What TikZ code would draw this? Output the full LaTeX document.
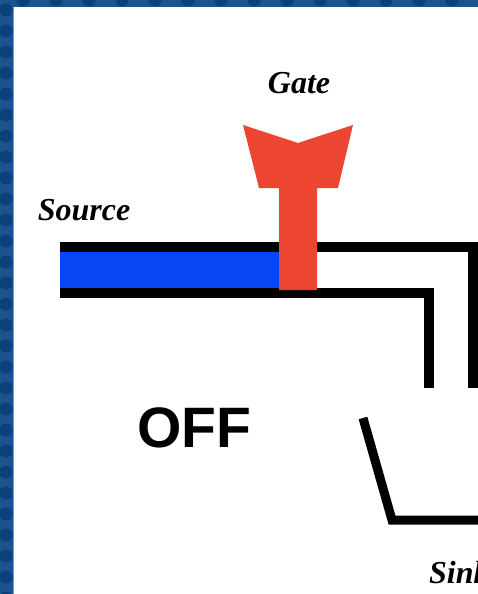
\documentclass[tikz,border=0pt]{standalone}
\usepackage{fontspec}
\setmainfont{Liberation Serif}
\setsansfont{Liberation Sans}

\definecolor{frameblue}{HTML}{1B5290}
\definecolor{framedot}{HTML}{0D3F78}
\definecolor{frameedge}{HTML}{6F9AD0}
\definecolor{chanblue}{HTML}{0646F5}
\definecolor{gatered}{HTML}{EC4632}

\tikzstyle{term} = [font=\bfseries\itshape\fontsize{32}{32}\selectfont, inner sep=0pt, anchor=base]
\tikzstyle{statetext} = [font=\sffamily\bfseries\fontsize{57}{57}\selectfont, inner sep=0pt, anchor=base]
\tikzstyle{wall} = [draw, line width=10pt, line join=miter]

\begin{document}
\begin{tikzpicture}[x=1pt,y=-1pt]
	\useasboundingbox (0,0) rectangle (478,594);
	\clip (0,0) rectangle (478,594);
	% page and frame
	\fill[white] (0,0) rectangle (478,594);
	\fill[frameblue] (0,0) rectangle (13,594);
	\fill[frameblue] (0,0) rectangle (478,7);
	\foreach \y in {10,31,...,600} \fill[framedot] (6,\y) circle (6.5);
	\foreach \x in {23,56,...,490} \fill[framedot] (\x,0) circle (6.5);
	\fill[frameblue] (13,7) rectangle (478,8);
	\draw[frameedge, line width=1pt] (13.5,7) -- (13.5,594);
	\fill[white] (14,7.5) rectangle (478,594);
	% channel from the source
	\fill[chanblue] (60,252) rectangle (279,288);
	\path[wall] (60,247) -- (473,247) -- (473,388);
	\path[wall] (60,293) -- (429,293) -- (429,388);
	% gate
	\fill[gatered] (243,125) -- (298,143) -- (353,125) -- (338,188) -- (317,188)
		-- (317,290) -- (279,290) -- (279,188) -- (259,188) -- cycle;
	% sink
	\path[wall, line width=9pt] (363,418) -- (392,520) -- (478,520);
	\node (gate) at (299,93) [term] {Gate};
	\node (source) at (84,220) [term] {Source};
	\node (off) at (194,447) [statetext] {OFF};
	\node (sink) at (429,583) [term, anchor=base west] {Sink};
\end{tikzpicture}
\end{document}
